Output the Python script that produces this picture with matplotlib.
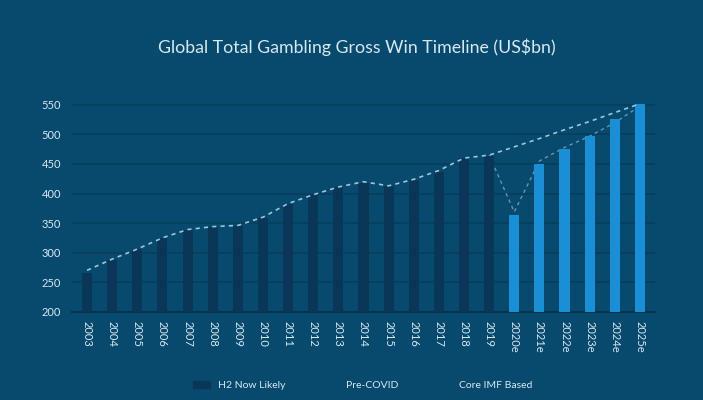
import numpy as np
import matplotlib
matplotlib.use("Agg")
import matplotlib.pyplot as plt
from matplotlib.patches import Patch
from matplotlib.lines import Line2D

years = ['2003', '2004', '2005', '2006', '2007', '2008', '2009', '2010', '2011',
         '2012', '2013', '2014', '2015', '2016', '2017', '2018', '2019',
         '2020e', '2021e', '2022e', '2023e', '2024e', '2025e']
h2_now_likely = [266, 288, 306, 324, 338, 344, 345, 358, 382, 398, 411, 418,
                 412, 423, 437, 460, 463, 364, 450, 476, 498, 526, 552]
pre_covid = [270, 289, 306, 325, 339, 344, 346, 360, 383, 398, 411, 420,
             413, 424, 439, 460, 465, 479, 493, 508, 522, 537, 552]
core_imf = [np.nan] * 16 + [465, 369, 455, 478, 497, 520, 548]
n_actual = 17  # bars up to 2019 are actuals

BG = '#084a6d'
DARK = '#0a3658'
LIGHT = '#1a8fd6'
TXT = '#d6e8f2'
LINE = '#a9d4ee'

plt.rcParams['font.family'] = ['Lato', 'DejaVu Sans']

fig = plt.figure(figsize=(7.03, 4.0), dpi=100, facecolor=BG)
ax = fig.add_axes([0.1024, 0.2208, 0.8293, 0.5317], facecolor=BG)

x = np.arange(len(years))
colors = [DARK if i < n_actual else LIGHT for i in range(len(years))]
ax.bar(x, [v - 200 for v in h2_now_likely], bottom=200, width=0.4,
       color=colors, zorder=3)

ax.plot(x, core_imf, color=LINE, lw=1.0, ls=(0, (2.5, 2.5)), alpha=0.55, zorder=2)
ax.plot(x, pre_covid, color=LINE, lw=1.2, ls=(0, (2.5, 2.5)), alpha=0.9, zorder=4)

ax.set_xlim(-0.6, len(years) - 0.4)
ax.set_ylim(200, 560)
ax.set_yticks(range(200, 551, 50))
ax.set_xticks(x)
ax.set_xticklabels(years, rotation=-90)
ax.grid(axis='y', color='#073d5c', lw=1.2, zorder=0)
ax.tick_params(length=0, colors=TXT, labelsize=8)
ax.tick_params(axis='x', pad=7)
ax.tick_params(axis='y', pad=8)
for s in ['top', 'right', 'left']:
    ax.spines[s].set_visible(False)
ax.spines['bottom'].set_color('#07324f')
ax.spines['bottom'].set_linewidth(1.5)

fig.suptitle('Global Total Gambling Gross Win Timeline (US$bn)', x=0.507, y=0.905,
             color=TXT, fontsize=12.8)

handles = [Patch(color=DARK), Line2D([], [], color='none'), Line2D([], [], color='none')]
leg = fig.legend(handles, ['H2 Now Likely', 'Pre-COVID', 'Core IMF Based'],
                 loc='center', bbox_to_anchor=(0.516, 0.037), ncol=3, frameon=False,
                 fontsize=7.5, columnspacing=3.4, handlelength=1.6, handleheight=0.7)
for t in leg.get_texts():
    t.set_color(TXT)

fig.savefig('out.png', dpi=100, facecolor=BG)
